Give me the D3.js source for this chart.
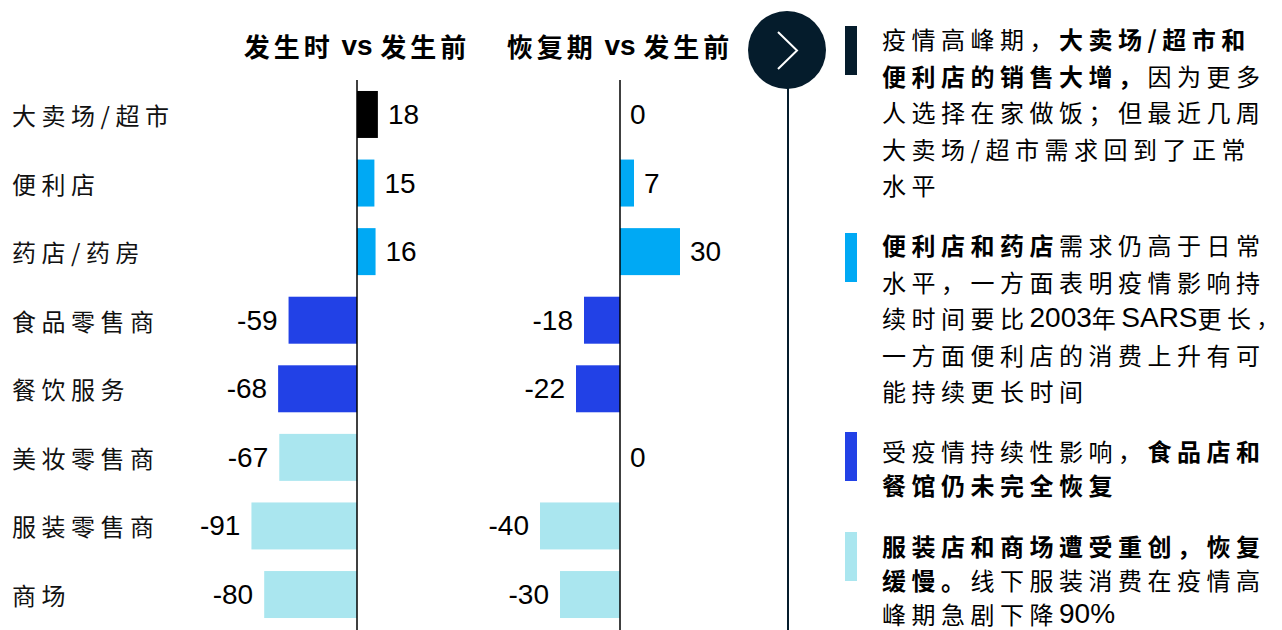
<!DOCTYPE html>
<html><head><meta charset="utf-8">
<script src="https://cdn.jsdelivr.net/npm/d3@7/dist/d3.min.js"></script>
<style>
html,body{margin:0;padding:0;background:#fff;}
svg{display:block;}
.cjk{font-family:"Noto Sans CJK SC","Noto Sans",sans-serif;}
.num{font-family:"Liberation Sans",Arial,sans-serif;}
</style></head>
<body>
<svg id="chart" width="1282" height="630"></svg>
<script>
const categories = ["大卖场/超市","便利店","药店/药房","食品零售商","餐饮服务","美妆零售商","服装零售商","商场"];
const duringVsBefore = [18,15,16,-59,-68,-67,-91,-80];
const recoveryVsBefore = [0,7,30,-18,-22,0,-40,-30];
const groups = ["super","conv","conv","food","food","beauty","beauty","beauty"];
const panelTitles = ["发生时 vs 发生前","恢复期 vs 发生前"];
const notes = [
  {group:"super", lines:[[["疫情高峰期，",0],["大卖场/超市和",1]],[["便利店的销售大增，",1],["因为更多",0]],[["人选择在家做饭；但最近几周",0]],[["大卖场/超市需求回到了正常",0]],[["水平",0]]]},
  {group:"conv", lines:[[["便利店和药店",1],["需求仍高于日常",0]],[["水平，一方面表明疫情影响持",0]],[["续时间要比",0],["2003",2],["年",0],["SARS",2],["更长",0],["，",3]],[["一方面便利店的消费上升有可",0]],[["能持续更长时间",0]]]},
  {group:"food", lines:[[["受疫情持续性影响，",0],["食品店和",1]],[["餐馆仍未完全恢复",1]]]},
  {group:"beauty", lines:[[["服装店和商场遭受重创，恢复",1]],[["缓慢。",1],["线下服装消费在疫情高",0]],[["峰期急剧下降",0],["90%",2]]]}
];
const colorMap = {super:"#000000", conv:"#00A9F4", food:"#2241E6", beauty:"#AAE6EF"};
const navy = "#051C2C";

const svg = d3.select("#chart");

const y = d3.scaleBand().domain(categories).range([80, 629]).paddingInner(0.315).paddingOuter(0.16);
const x1 = d3.scaleLinear().domain([-100, 30]).range([357 - 116, 357 + 34.8]);
const x2 = d3.scaleLinear().domain([-50, 40]).range([520, 700]);

// category labels
svg.append("g").selectAll("text").data(categories).join("text")
  .attr("class","cjk").attr("x", 12).attr("y", d => y(d) + y.bandwidth()/2)
  .attr("dominant-baseline","central").attr("font-size", 24).attr("letter-spacing", 5.5)
  .attr("fill","#111").text(d => d);

function panel(xs, values, title) {
  const g = svg.append("g");
  const data = categories.map((c,i) => ({c, v: values[i], grp: groups[i]}));
  g.selectAll("rect").data(data.filter(d => d.v !== 0)).join("rect")
    .attr("x", d => xs(Math.min(0, d.v))).attr("width", d => Math.abs(xs(d.v) - xs(0)))
    .attr("y", d => y(d.c)).attr("height", y.bandwidth())
    .attr("fill", d => colorMap[d.grp]);
  g.append("line").attr("x1", xs(0)).attr("x2", xs(0)).attr("y1", 80).attr("y2", 630)
    .attr("stroke", "#000").attr("stroke-width", 1.5);
  g.selectAll("text.val").data(data).join("text").attr("class","val num")
    .attr("x", d => d.v < 0 ? xs(d.v) - 11 : xs(d.v) + 10)
    .attr("y", d => y(d.c) + y.bandwidth()/2)
    .attr("text-anchor", d => d.v < 0 ? "end" : "start")
    .attr("dominant-baseline","central").attr("font-size", 28).attr("fill","#000")
    .text(d => d.v);
  const parts = title.split(" vs ");
  const t = g.append("text").attr("x", xs(0)).attr("y", 45).attr("text-anchor","middle")
    .attr("dominant-baseline","central").attr("font-size", 26).attr("font-weight","bold").attr("fill","#000");
  t.append("tspan").attr("class","cjk").attr("letter-spacing",4).text(parts[0]);
  t.append("tspan").attr("class","num").attr("font-size",28).text(" vs ");
  t.append("tspan").attr("class","cjk").attr("letter-spacing",4).text(parts[1]);
}
panel(x1, duringVsBefore, panelTitles[0]);
panel(x2, recoveryVsBefore, panelTitles[1]);

// separator + circle arrow
svg.append("line").attr("x1",788).attr("x2",788).attr("y1",85).attr("y2",630).attr("stroke",navy).attr("stroke-width",2);
svg.append("circle").attr("cx",787).attr("cy",50).attr("r",39).attr("fill",navy);
svg.append("path").attr("d","M778,32 L797,50.5 L778,69").attr("fill","none").attr("stroke","#fff").attr("stroke-width",2);

// notes
const noteStarts = [38, 244, 450, 545];
const notePitch = [36.5, 36.5, 34, 34];
const barTops = [26, 233, 432, 532];
notes.forEach((n, k) => {
  svg.append("rect").attr("x",845).attr("y",barTops[k]).attr("width",12).attr("height",49).attr("fill", k===0 ? navy : colorMap[n.group]);
  n.lines.forEach((line, li) => {
    const t = svg.append("text").attr("x", 882).attr("y", noteStarts[k] + li*notePitch[k])
      .attr("dominant-baseline","central").attr("font-size",24).attr("fill","#000");
    line.forEach(([s, kind]) => {
      const ts = t.append("tspan").text(s);
      if (kind === 2) ts.attr("class","num").attr("font-size",28).attr("letter-spacing",0);
      else if (kind === 3) ts.attr("class","cjk").attr("letter-spacing",0).attr("font-size",22);
      else ts.attr("class","cjk").attr("letter-spacing",5.5).attr("font-weight", kind===1 ? "bold" : "normal");
    });
  });
});
</script>
</body></html>
